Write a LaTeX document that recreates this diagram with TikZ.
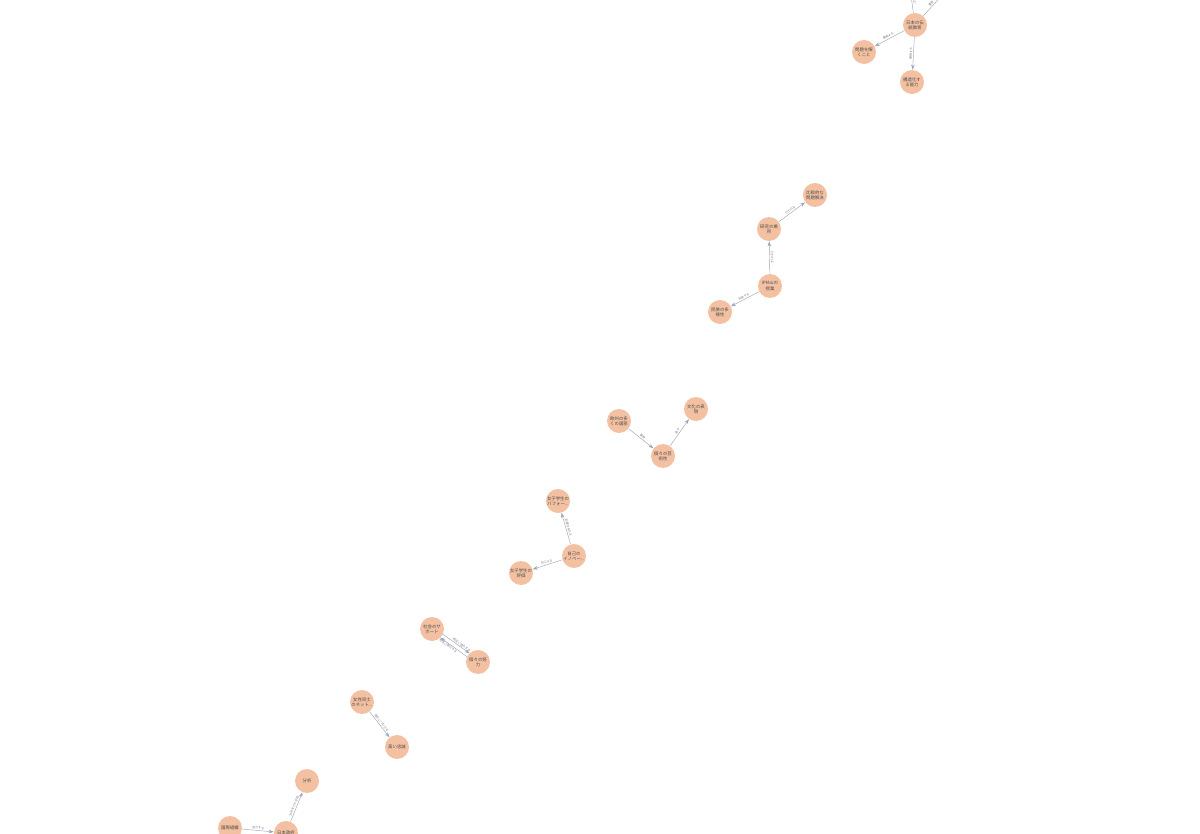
\documentclass[tikz,border=0pt]{standalone}
\usepackage{fontspec}
\setmainfont{Noto Sans CJK JP}
\usetikzlibrary{arrows.meta,calc}
\definecolor{nodefill}{HTML}{F3C1A2}
\definecolor{edgecol}{HTML}{9EA5BA}
\definecolor{txtcol}{HTML}{4A4A4A}
\tikzset{
  ent/.style={circle,fill=nodefill,draw=none,minimum size=0.48cm,inner sep=0pt,
    font=\fontsize{2.5}{3}\selectfont,text=txtcol,align=center},
  rel/.style={draw=edgecol,line width=0.25pt,-{Stealth[length=1mm,width=0.7mm]}},
  lab/.style={sloped,above,inner sep=0.6pt,font=\fontsize{1.7}{2}\selectfont,text=gray}
}
\begin{document}
\begin{tikzpicture}[x=0.02cm,y=-0.02cm]
\useasboundingbox (0,0) rectangle (1200,834);
\fill[white] (0,0) rectangle (1200,834);
\begin{scope}
\clip (0,0) rectangle (1200,834);
% cluster 1
\node[ent] (a1) at (915,25) {日本の伝\\統教育};
\node[ent] (a2) at (864,52) {問題を解\\くこと};
\node[ent] (a3) at (912,82) {構造化す\\る能力};
\coordinate (a0) at (910,-12);
\coordinate (a4) at (945,-8);
\draw[rel] (a1) -- node[lab,pos=0.45] {含む} (a0);
\draw[rel] (a1) -- node[lab,pos=0.45] {重視} (a4);
\draw[rel] (a1) -- node[lab] {重視する} (a2);
\draw[rel] (a1) -- node[lab] {重視する} (a3);
% cluster 2
\node[ent] (b1) at (815,195) {比較的な\\問題解決};
\node[ent] (b2) at (769,229) {研究の場\\所};
\node[ent] (b3) at (770,286) {IPMacの\\授業};
\node[ent] (b4) at (720,312) {民族の多\\様性};
\draw[rel] (b2) -- node[lab] {行われる} (b1);
\draw[rel] (b3) -- node[lab] {行われる} (b2);
\draw[rel] (b3) -- node[lab] {反映する} (b4);
% cluster 3
\node[ent] (c1) at (619,421) {欧州の多\\くの国家};
\node[ent] (c2) at (663,456) {個々の芸\\術性};
\node[ent] (c3) at (696,409) {文化の表\\現};
\draw[rel] (c1) -- node[lab] {重視} (c2);
\draw[rel] (c2) -- node[lab] {表す} (c3);
% cluster 4
\node[ent] (d1) at (558,501) {女子学生の\\パフォー...};
\node[ent] (d2) at (574,556) {自己の\\イノベー...};
\node[ent] (d3) at (521,573) {女子学生の\\評価};
\draw[rel] (d2) -- node[lab] {影響を与える} (d1);
\draw[rel] (d2) -- node[lab] {向上する} (d3);
% cluster 5
\node[ent] (e1) at (432,629) {社会のサ\\ポート};
\node[ent] (e2) at (478,662) {個々の努\\力};
\draw[rel] ($(e1)!0.21!(e2)+(1.2,-1.7)$) -- node[lab,inner sep=0.3pt,pos=0.66] {相互に強化する} ($(e1)!0.79!(e2)+(1.2,-1.7)$);
\draw[rel] ($(e2)!0.21!(e1)+(-1.2,1.7)$) -- node[lab,below,inner sep=0.3pt,pos=0.66] {相互に強化する} ($(e2)!0.79!(e1)+(-1.2,1.7)$);
% cluster 6
\node[ent] (f1) at (362,702) {女性同士\\のネット...};
\node[ent] (f2) at (397,747) {高い忠誠};
\draw[rel] (f1) -- node[lab] {強化につながる} (f2);
% cluster 7
\node[ent] (g1) at (230,828) {国際組織};
\node[ent] (g2) at (286,833) {日本政府};
\node[ent] (g3) at (307,781) {分析};
\draw[rel] (g1) -- node[lab] {協力する} (g2);
\draw[rel] (g2) -- node[lab] {分析を行う手段} (g3);
\end{scope}
\end{tikzpicture}
\end{document}
